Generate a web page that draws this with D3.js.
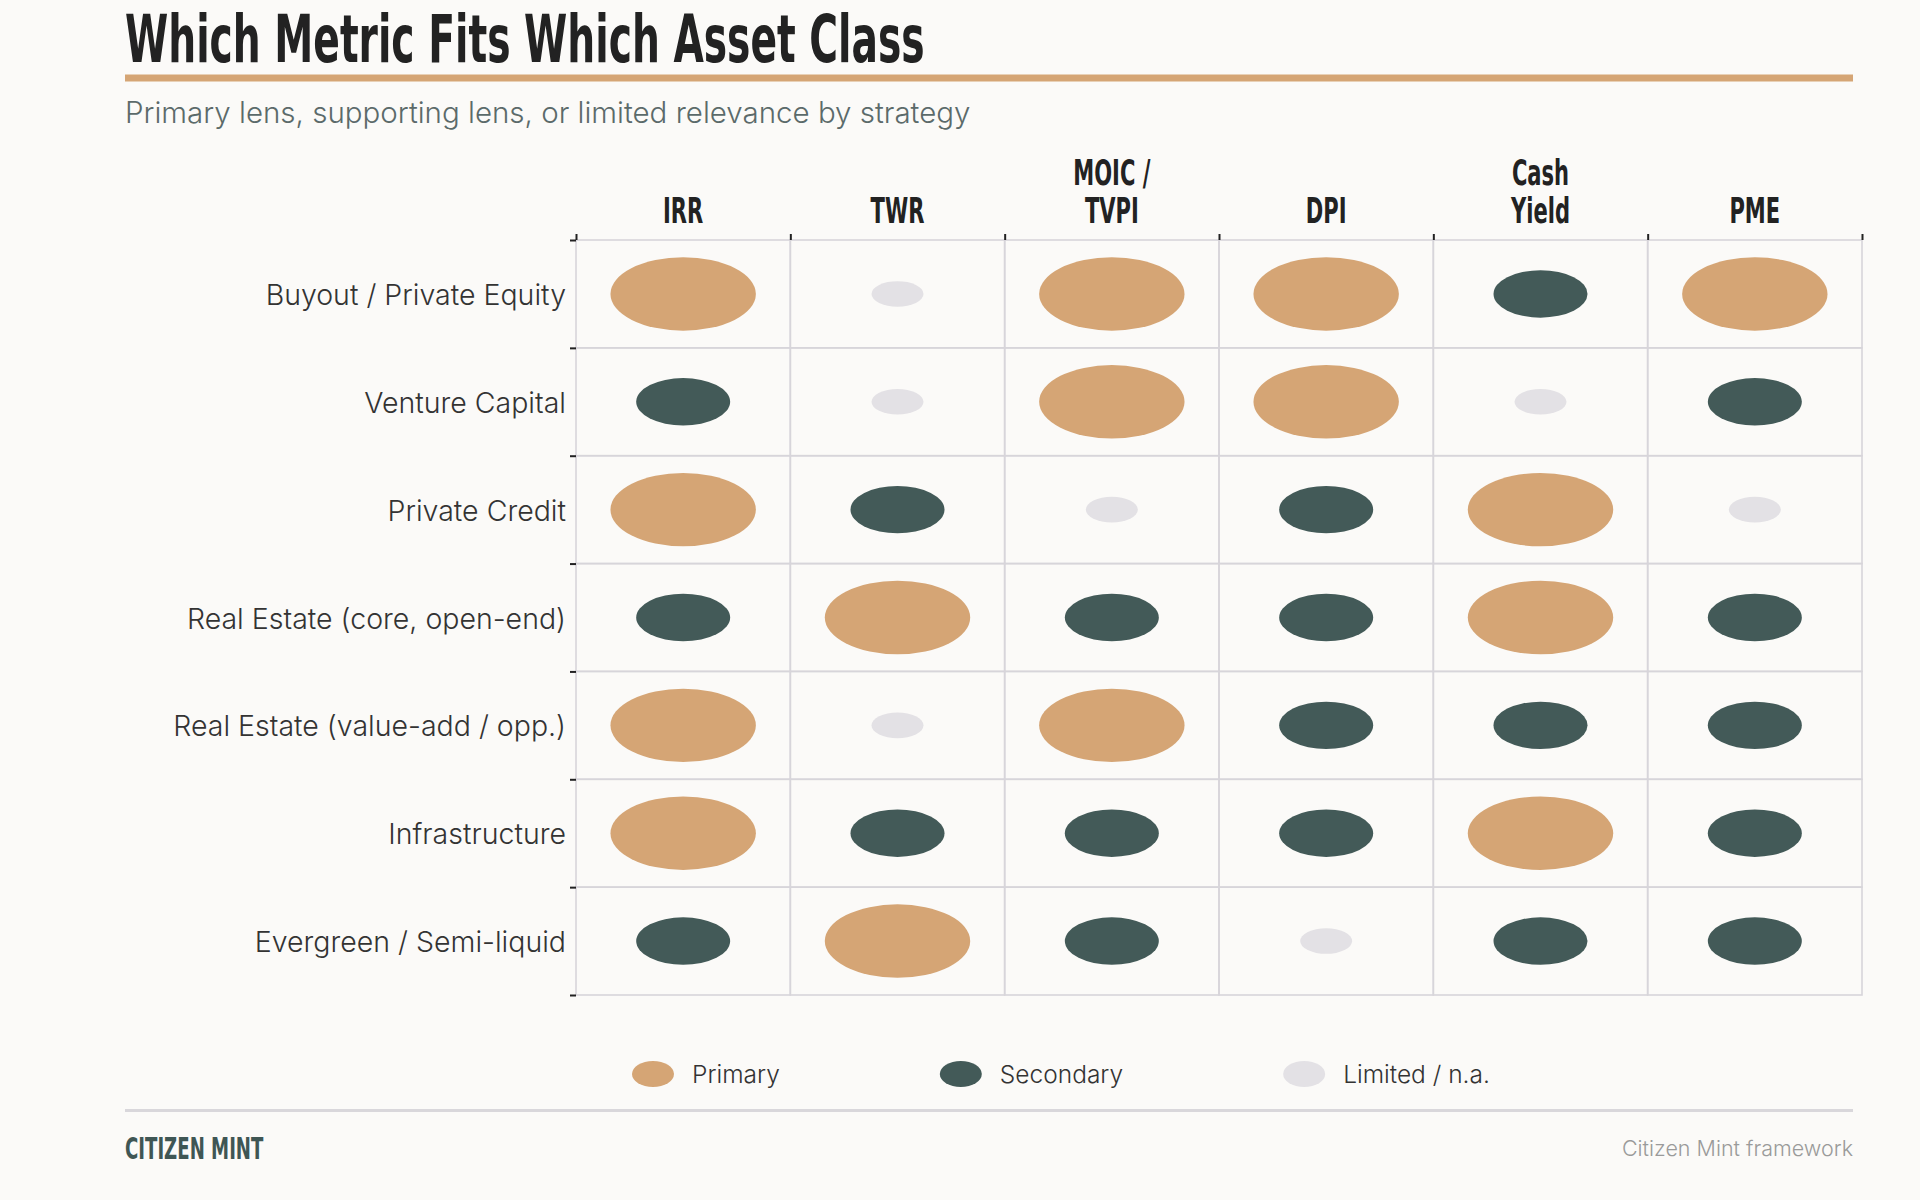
<!DOCTYPE html>
<html>
<head>
<meta charset="utf-8">
<script src="https://cdn.jsdelivr.net/npm/d3@7"></script>
<style>
  html, body { margin: 0; padding: 0; background: #fbfaf8; }
  svg { display: block; }
  .cond { font-family: "Liberation Sans Narrow", "DejaVu Sans Condensed", "Roboto Condensed", sans-serif; font-weight: 700; font-stretch: condensed; }
  .light { font-family: Inter, Roboto, sans-serif; font-weight: 300; }
</style>
</head>
<body>
<svg id="canvas" width="1920" height="1200"></svg>
<script>
const TITLE = "Which Metric Fits Which Asset Class";
const SUBTITLE = "Primary lens, supporting lens, or limited relevance by strategy";

const METRICS = [["IRR"], ["TWR"], ["MOIC /", "TVPI"], ["DPI"], ["Cash", "Yield"], ["PME"]];
const STRATEGIES = ["Buyout / Private Equity", "Venture Capital", "Private Credit",
  "Real Estate (core, open-end)", "Real Estate (value-add / opp.)", "Infrastructure",
  "Evergreen / Semi-liquid"];

// P = primary, S = secondary, L = limited / n.a.
const FIT = [
  ["P", "L", "P", "P", "S", "P"],
  ["S", "L", "P", "P", "L", "S"],
  ["P", "S", "L", "S", "P", "L"],
  ["S", "P", "S", "S", "P", "S"],
  ["P", "L", "P", "S", "S", "S"],
  ["P", "S", "S", "S", "P", "S"],
  ["S", "P", "S", "L", "S", "S"]
];

const LEVELS = ["P", "S", "L"];
const LEVEL_NAMES = ["Primary", "Secondary", "Limited / n.a."];
const LEVEL_COLORS = ["#d5a575", "#435a58", "#e3e1e5"];

let canvas = d3.select("#canvas");

let color = d3.scaleOrdinal().domain(LEVELS).range(LEVEL_COLORS);
let radiusX = d3.scaleOrdinal().domain(LEVELS).range([72.7, 47, 26]);
let radiusY = d3.scaleOrdinal().domain(LEVELS).range([36.7, 23.7, 12.8]);

let gridLeft = 576, gridRight = 1862, gridTop = 240, gridBottom = 995;

let xScale = d3.scaleBand()
  .domain(d3.range(METRICS.length))
  .range([gridLeft, gridRight]);

let yScale = d3.scaleBand()
  .domain(d3.range(STRATEGIES.length))
  .range([gridTop, gridBottom]);

// squeeze condensed text a bit more, the reference face is narrower
const SQUEEZE = 0.65;

let condText = (g, x, y, str, size, anchor, squeeze) => {
  return g.append("text")
    .attr("class", "cond")
    .attr("transform", "translate(" + x + "," + y + ") scale(" + (squeeze || SQUEEZE) + ",1)")
    .attr("text-anchor", anchor)
    .attr("font-size", size)
    .text(str);
};

let drawHeader = () => {
  condText(canvas, 125, 62, TITLE, 66, "start", 0.66).attr("fill", "#222222");

  canvas.append("rect")
    .attr("x", 125).attr("y", 74.5)
    .attr("width", 1853 - 125).attr("height", 7)
    .attr("fill", "#d5a575");

  canvas.append("text")
    .attr("class", "light")
    .attr("x", 125).attr("y", 123)
    .attr("font-size", 29.5)
    .attr("fill", "#5b6a6a")
    .text(SUBTITLE);
};

let drawGrid = () => {
  let cells = [];
  FIT.forEach((row, r) => row.forEach((lvl, c) => cells.push({ r: r, c: c, lvl: lvl })));

  canvas.append("g").selectAll("rect")
    .data(cells)
    .enter()
    .append("rect")
    .attr("x", d => xScale(d.c))
    .attr("y", d => yScale(d.r))
    .attr("width", xScale.bandwidth())
    .attr("height", yScale.bandwidth())
    .attr("fill", "none")
    .attr("stroke", "#d7d5da")
    .attr("stroke-width", 1.6);

  canvas.append("g").selectAll("ellipse")
    .data(cells)
    .enter()
    .append("ellipse")
    .attr("cx", d => xScale(d.c) + xScale.bandwidth() / 2)
    .attr("cy", d => yScale(d.r) + yScale.bandwidth() / 2)
    .attr("rx", d => radiusX(d.lvl))
    .attr("ry", d => radiusY(d.lvl))
    .attr("fill", d => color(d.lvl));

  // tick marks sit on the cell boundaries
  let xEdges = d3.scaleLinear().domain([0, METRICS.length]).range([gridLeft, gridRight]);
  let yEdges = d3.scaleLinear().domain([0, STRATEGIES.length]).range([gridTop, gridBottom]);

  let topAxis = canvas.append("g")
    .attr("transform", "translate(0," + gridTop + ")")
    .call(d3.axisTop(xEdges).tickValues(d3.range(METRICS.length + 1)).tickSize(6).tickFormat(""));
  let leftAxis = canvas.append("g")
    .attr("transform", "translate(" + gridLeft + ",0)")
    .call(d3.axisLeft(yEdges).tickValues(d3.range(STRATEGIES.length + 1)).tickSize(6).tickFormat(""));
  [topAxis, leftAxis].forEach(ax => {
    ax.select(".domain").remove();
    ax.selectAll("line").attr("stroke", "#222").attr("stroke-width", 2);
  });

  // column headers, bottom line aligned
  METRICS.forEach((lines, c) => {
    let cx = xScale(c) + xScale.bandwidth() / 2;
    lines.forEach((ln, i) => {
      let y = 223 - (lines.length - 1 - i) * 38;
      condText(canvas, cx, y, ln, 36, "middle").attr("fill", "#222222");
    });
  });

  canvas.append("g").selectAll("text")
    .data(STRATEGIES)
    .enter()
    .append("text")
    .attr("class", "light")
    .attr("x", gridLeft - 10)
    .attr("y", (d, i) => yScale(i) + yScale.bandwidth() / 2 + 11)
    .attr("text-anchor", "end")
    .attr("font-size", 28.5)
    .attr("fill", "#333333")
    .text(d => d);
};

let drawLegend = () => {
  let legend = canvas.append("g").attr("transform", "translate(632,1074)");
  let x = 0;
  LEVELS.forEach((lvl, i) => {
    let item = legend.append("g").attr("transform", "translate(" + x + ",0)");
    item.append("ellipse")
      .attr("cx", 21).attr("cy", 0)
      .attr("rx", 21).attr("ry", 13)
      .attr("fill", color(lvl));
    let label = item.append("text")
      .attr("class", "light")
      .attr("x", 60).attr("y", 9)
      .attr("font-size", 24.5)
      .attr("fill", "#333333")
      .text(LEVEL_NAMES[i]);
    x += 60 + label.node().getComputedTextLength() + 160;
  });
};

let drawFooter = () => {
  canvas.append("rect")
    .attr("x", 125).attr("y", 1109)
    .attr("width", 1853 - 125).attr("height", 3)
    .attr("fill", "#d9d7db");

  condText(canvas, 125, 1159, "CITIZEN MINT", 31, "start").attr("fill", "#3f5654");

  canvas.append("text")
    .attr("class", "light")
    .attr("x", 1853).attr("y", 1156)
    .attr("text-anchor", "end")
    .attr("font-size", 21.5)
    .attr("fill", "#9a9a9a")
    .text("Citizen Mint framework");
};

drawHeader();
drawGrid();
drawLegend();
drawFooter();
</script>
</body>
</html>
